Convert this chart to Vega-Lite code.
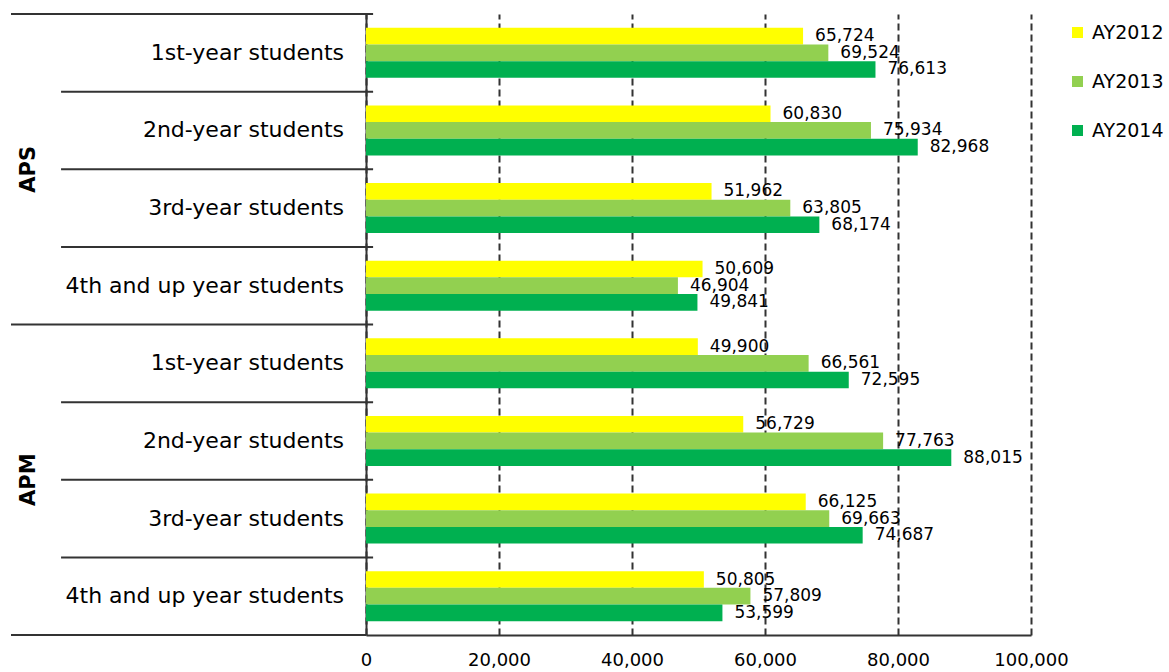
{
  "$schema": "https://vega.github.io/schema/vega-lite/v6.json",
  "background": "white",
  "padding": {"left": 10, "top": 13, "right": 0, "bottom": 5},
  "bounds": "flush",
  "config": {"view": {"stroke": null}, "font": "DejaVu Sans"},
  "data": {"values": [
    {"group": "APS", "category": "1st-year students", "key": "APS|1", "year": "AY2012", "value": 65724},
    {"group": "APS", "category": "1st-year students", "key": "APS|1", "year": "AY2013", "value": 69524},
    {"group": "APS", "category": "1st-year students", "key": "APS|1", "year": "AY2014", "value": 76613},
    {"group": "APS", "category": "2nd-year students", "key": "APS|2", "year": "AY2012", "value": 60830},
    {"group": "APS", "category": "2nd-year students", "key": "APS|2", "year": "AY2013", "value": 75934},
    {"group": "APS", "category": "2nd-year students", "key": "APS|2", "year": "AY2014", "value": 82968},
    {"group": "APS", "category": "3rd-year students", "key": "APS|3", "year": "AY2012", "value": 51962},
    {"group": "APS", "category": "3rd-year students", "key": "APS|3", "year": "AY2013", "value": 63805},
    {"group": "APS", "category": "3rd-year students", "key": "APS|3", "year": "AY2014", "value": 68174},
    {"group": "APS", "category": "4th and up year students", "key": "APS|4", "year": "AY2012", "value": 50609},
    {"group": "APS", "category": "4th and up year students", "key": "APS|4", "year": "AY2013", "value": 46904},
    {"group": "APS", "category": "4th and up year students", "key": "APS|4", "year": "AY2014", "value": 49841},
    {"group": "APM", "category": "1st-year students", "key": "APM|1", "year": "AY2012", "value": 49900},
    {"group": "APM", "category": "1st-year students", "key": "APM|1", "year": "AY2013", "value": 66561},
    {"group": "APM", "category": "1st-year students", "key": "APM|1", "year": "AY2014", "value": 72595},
    {"group": "APM", "category": "2nd-year students", "key": "APM|2", "year": "AY2012", "value": 56729},
    {"group": "APM", "category": "2nd-year students", "key": "APM|2", "year": "AY2013", "value": 77763},
    {"group": "APM", "category": "2nd-year students", "key": "APM|2", "year": "AY2014", "value": 88015},
    {"group": "APM", "category": "3rd-year students", "key": "APM|3", "year": "AY2012", "value": 66125},
    {"group": "APM", "category": "3rd-year students", "key": "APM|3", "year": "AY2013", "value": 69663},
    {"group": "APM", "category": "3rd-year students", "key": "APM|3", "year": "AY2014", "value": 74687},
    {"group": "APM", "category": "4th and up year students", "key": "APM|4", "year": "AY2012", "value": 50805},
    {"group": "APM", "category": "4th and up year students", "key": "APM|4", "year": "AY2013", "value": 57809},
    {"group": "APM", "category": "4th and up year students", "key": "APM|4", "year": "AY2014", "value": 53599}
  ]},
  "spacing": 0,
  "resolve": {"scale": {"y": "shared"}},
  "hconcat": [
    {
      "width": 355,
      "height": 621,
      "transform": [{"filter": "datum.year === 'AY2012'"}],
      "layer": [
        {
          "mark": {"type": "rule", "color": "#333333", "strokeWidth": 2},
          "transform": [{"filter": "datum.category !== '1st-year students'"}],
          "encoding": {
            "y": {"field": "key", "type": "nominal", "bandPosition": 0, "axis": null,
                  "sort": ["APS|1", "APS|2", "APS|3", "APS|4", "APM|1", "APM|2", "APM|3", "APM|4"],
                  "scale": {"paddingInner": 0, "paddingOuter": 0}},
            "x": {"datum": 0.141, "type": "quantitative", "scale": {"domain": [0, 1]}, "axis": null},
            "x2": {"datum": 1.02}
          }
        },
        {
          "mark": {"type": "rule", "color": "#333333", "strokeWidth": 2},
          "transform": [{"filter": "datum.category === '1st-year students'"}],
          "encoding": {
            "y": {"field": "key", "type": "nominal", "bandPosition": 0, "axis": null,
                  "sort": ["APS|1", "APS|2", "APS|3", "APS|4", "APM|1", "APM|2", "APM|3", "APM|4"]},
            "x": {"datum": 0, "type": "quantitative", "axis": null},
            "x2": {"datum": 1.02}
          }
        },
        {
          "mark": {"type": "rule", "color": "#333333", "strokeWidth": 2},
          "transform": [{"filter": "datum.key === 'APM|4'"}],
          "encoding": {
            "y": {"field": "key", "type": "nominal", "bandPosition": 1, "axis": null,
                  "sort": ["APS|1", "APS|2", "APS|3", "APS|4", "APM|1", "APM|2", "APM|3", "APM|4"]},
            "x": {"datum": 0, "type": "quantitative", "axis": null},
            "x2": {"datum": 1}
          }
        },
        {
          "mark": {"type": "text", "align": "right", "baseline": "middle", "fontSize": 22, "color": "black"},
          "encoding": {
            "y": {"field": "key", "type": "nominal", "axis": null,
                  "sort": ["APS|1", "APS|2", "APS|3", "APS|4", "APM|1", "APM|2", "APM|3", "APM|4"]},
            "x": {"datum": 0.938, "type": "quantitative", "axis": null},
            "text": {"field": "category"}
          }
        },
        {
          "mark": {"type": "text", "align": "center", "baseline": "middle", "fontSize": 21, "fontWeight": "bold", "angle": 270, "color": "black"},
          "transform": [{"filter": "datum.category === '2nd-year students'"}],
          "encoding": {
            "y": {"field": "key", "type": "nominal", "bandPosition": 1, "axis": null,
                  "sort": ["APS|1", "APS|2", "APS|3", "APS|4", "APM|1", "APM|2", "APM|3", "APM|4"]},
            "x": {"datum": 0.05, "type": "quantitative", "axis": null},
            "text": {"field": "group"}
          }
        }
      ]
    },
    {
      "width": 665,
      "height": 621,
      "encoding": {
        "y": {"field": "key", "type": "nominal",
              "sort": ["APS|1", "APS|2", "APS|3", "APS|4", "APM|1", "APM|2", "APM|3", "APM|4"],
              "axis": {"title": null, "labels": false, "ticks": false, "domainColor": "#333333", "domainWidth": 2}},
        "yOffset": {"field": "year", "type": "nominal", "scale": {"paddingInner": 0, "paddingOuter": 0.83}},
        "x": {"field": "value", "type": "quantitative",
              "scale": {"domain": [0, 100000], "nice": false},
              "axis": {"title": null, "values": [0, 20000, 40000, 60000, 80000, 100000],
                       "labelExpr": "format(datum.value, ',')", "labelFlush": false,
                       "grid": true, "gridDash": [7, 4], "gridColor": "#333333", "gridWidth": 2, "gridOpacity": 1,
                       "ticks": false, "domainColor": "#333333", "domainWidth": 2,
                       "labelFontSize": 18, "labelColor": "black", "labelPadding": 16, "labelFont": "DejaVu Sans"}}
      },
      "layer": [
        {
          "mark": {"type": "bar"},
          "encoding": {
            "color": {"field": "year", "type": "nominal",
                      "scale": {"domain": ["AY2012", "AY2013", "AY2014"], "range": ["#FFFF00", "#92D050", "#00B050"]},
                      "legend": {"title": null, "orient": "none", "legendX": 1057, "legendY": 9, "symbolType": "square", "symbolSize": 121,
                                 "symbolStrokeWidth": 0, "labelFontSize": 19, "labelColor": "black", "rowPadding": 29,
                                 "labelOffset": 5, "padding": 0, "labelFont": "DejaVu Sans"}}
          }
        },
        {
          "mark": {"type": "text", "align": "left", "baseline": "middle", "dx": 12, "fontSize": 17, "color": "black"},
          "encoding": {"text": {"field": "value", "type": "quantitative", "format": ","}}
        }
      ]
    }
  ]
}
